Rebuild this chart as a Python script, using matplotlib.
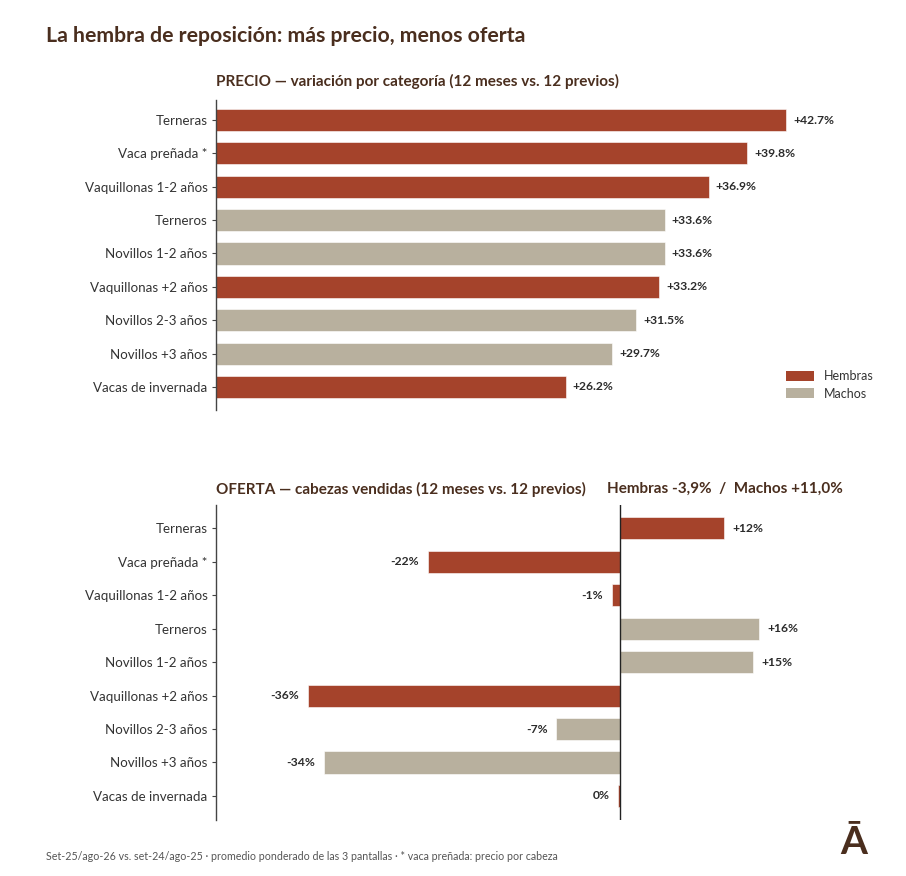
import matplotlib

matplotlib.use("Agg")
import matplotlib.pyplot as plt
from matplotlib.patches import Patch

plt.rcParams["font.family"] = ["Lato", "DejaVu Sans"]

categories = [
    "Terneras",
    "Vaca preñada *",
    "Vaquillonas 1-2 años",
    "Terneros",
    "Novillos 1-2 años",
    "Vaquillonas +2 años",
    "Novillos 2-3 años",
    "Novillos +3 años",
    "Vacas de invernada",
]
sex = ["H", "H", "H", "M", "M", "H", "M", "M", "H"]
price_change = [42.7, 39.8, 36.9, 33.6, 33.6, 33.2, 31.5, 29.7, 26.2]
supply_change = [12.0, -22.3, -1.0, 16.1, 15.4, -36.2, -7.4, -34.3, -0.2]
supply_summary = "Hembras -3,9%  /  Machos +11,0%"

RED = "#A5432B"
GRAY = "#B8B09E"
BROWN = "#4A2E1E"
TEXT = "#2B2B2B"

colors = [RED if s == "H" else GRAY for s in sex]
ypos = list(range(len(categories)))

fig = plt.figure(figsize=(9.06, 8.76), dpi=100)

W = 906
H = 876


def fx(px):
    return px / W


def fy(py):
    return 1 - py / H


def style_axis(ax):
    for side in ("top", "right", "bottom"):
        ax.spines[side].set_visible(False)
    ax.spines["left"].set_color("#444444")
    ax.spines["left"].set_linewidth(1.0)
    ax.set_xticks([])
    ax.set_yticks(ypos)
    ax.set_yticklabels(categories, fontsize=9.6, color="#333333")
    ax.tick_params(axis="y", length=3, width=0.8, color="#444444", pad=3)


# --- PRECIO ---
ax1 = fig.add_axes([fx(216), fy(410), fx(843) - fx(216), fy(100) - fy(410)])
ax1.barh(ypos, price_change, height=0.66, color=colors, edgecolor="white", linewidth=0.4)
ax1.set_xlim(0, 46.97)
ax1.set_ylim(8.69, -0.6)
style_axis(ax1)
for y, v in zip(ypos, price_change):
    ax1.annotate(f"+{v:.1f}%", (v, y), xytext=(5, 0), textcoords="offset points",
                 ha="left", va="center", fontsize=8.7, fontweight="bold", color=TEXT)

# --- OFERTA ---
ax2 = fig.add_axes([fx(216), fy(820), fx(843) - fx(216), fy(505) - fy(820)])
ax2.barh(ypos, supply_change, height=0.66, color=colors, edgecolor="white", linewidth=0.4)
ax2.axvline(0, color="#222222", linewidth=1.0)
ax2.set_xlim(-46.8, 25.8)
ax2.set_ylim(8.72, -0.7)
style_axis(ax2)
for y, v in zip(ypos, supply_change):
    r = round(v)
    label = "0%" if r == 0 else f"{r:+d}%"
    if v >= 0 and r != 0:
        ax2.annotate(label, (v, y), xytext=(6, 0), textcoords="offset points",
                     ha="left", va="center", fontsize=8.7, fontweight="bold", color=TEXT)
    else:
        ax2.annotate(label, (v, y), xytext=(-6, 0), textcoords="offset points",
                     ha="right", va="center", fontsize=8.7, fontweight="bold", color=TEXT)

# titles
fig.text(fx(46), fy(36), "La hembra de reposición: más precio, menos oferta",
         fontsize=15.3, fontweight="bold", color=BROWN, ha="left", va="center")
fig.text(fx(216), fy(81), "PRECIO — variación por categoría (12 meses vs. 12 previos)",
         fontsize=11.0, fontweight="bold", color=BROWN, ha="left", va="center")
fig.text(fx(216), fy(489), "OFERTA — cabezas vendidas (12 meses vs. 12 previos)",
         fontsize=11.0, fontweight="bold", color=BROWN, ha="left", va="center")
fig.text(fx(843), fy(489), supply_summary,
         fontsize=11.0, fontweight="bold", color=BROWN, ha="right", va="center")

# legend
handles = [Patch(facecolor=RED, label="Hembras"), Patch(facecolor=GRAY, label="Machos")]
fig.legend(handles=handles, loc="center left", bbox_to_anchor=(fx(775), fy(385)),
           frameon=False, fontsize=9, handlelength=2.2, handleheight=0.8,
           labelspacing=0.4, handletextpad=0.8, labelcolor="#333333")

# footnote and mark
fig.text(fx(46), fy(857),
         "Set-25/ago-26 vs. set-24/ago-25 · promedio ponderado de las 3 pantallas · * vaca preñada: precio por cabeza",
         fontsize=7.7, color="#555555", ha="left", va="center")
fig.text(fx(854), fy(843), "Ā", fontsize=28, fontweight="bold", color=BROWN,
         ha="center", va="center")

fig.savefig("out.png", dpi=100, facecolor="white")
